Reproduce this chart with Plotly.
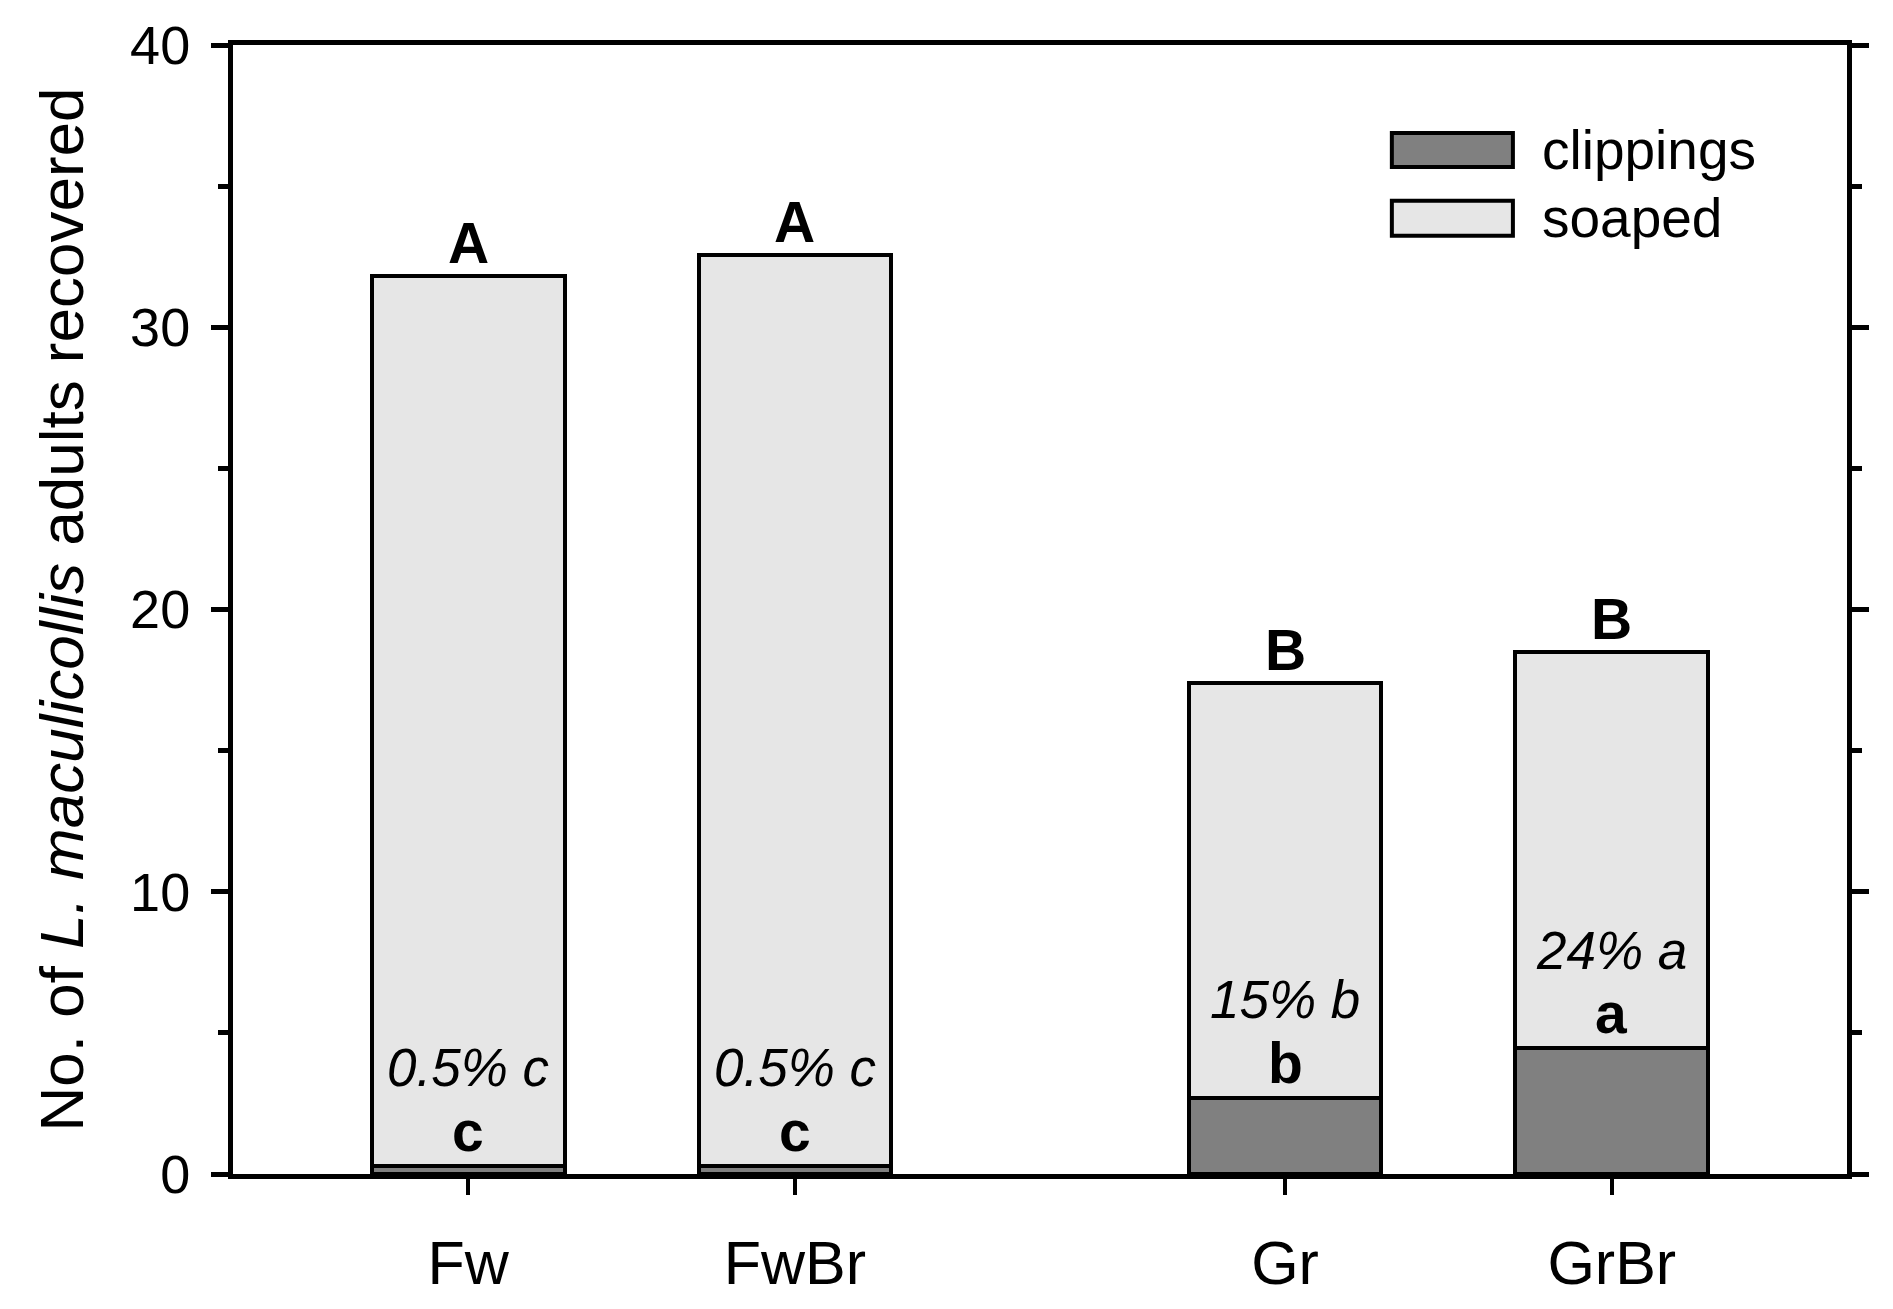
import plotly.graph_objects as go

# ---- data ----
categories = ["Fw", "FwBr", "Gr", "GrBr"]
clippings = [0.3, 0.3, 2.7, 4.45]
soaped = [31.5, 32.25, 14.7, 14.05]
group_letters = ["A", "A", "B", "B"]
clip_letters = ["c", "c", "b", "a"]
pct_labels = ["0.5% c", "0.5% c", "15% b", "24% a"]
y_tick_vals = [0, 10, 20, 30, 40]
series_names = ["clippings", "soaped"]
series_colors = ["#808080", "#e6e6e6"]

# layout positions (gap between the two groups)
x_pos = [1, 2, 3.5, 4.5]

FONT = "Liberation Sans, Arial, Helvetica, sans-serif"

fig = go.Figure()
for name, vals, col in zip(series_names, [clippings, soaped], series_colors):
    fig.add_trace(go.Bar(
        x=x_pos, y=vals, name=name, width=0.59,
        marker=dict(color=col, line=dict(color="black", width=4)),
        showlegend=False,
    ))

totals = [c + s for c, s in zip(clippings, soaped)]
annotations = []
for xi, tot, clip, gl, cl, pl in zip(x_pos, totals, clippings, group_letters, clip_letters, pct_labels):
    annotations.append(dict(x=xi, y=tot, text=f"<b>{gl}</b>", showarrow=False,
                            yanchor="middle", yshift=33,
                            font=dict(family=FONT, size=57, color="black")))
    annotations.append(dict(x=xi, y=clip, text=f"<b>{cl}</b>", showarrow=False,
                            yanchor="middle", yshift=35,
                            font=dict(family=FONT, size=57, color="black")))
    annotations.append(dict(x=xi, y=clip, text=f"<i>{pl}</i>", showarrow=False,
                            yanchor="middle", yshift=98,
                            font=dict(family=FONT, size=53, color="black")))

# manual legend (large swatches)
shapes = []
leg_x0, leg_x1, leg_tx = 0.718, 0.793, 0.810
leg_rows = [(0.922, 0.892), (0.862, 0.831)]
for (y1, y0), name, col in zip(leg_rows, series_names, series_colors):
    shapes.append(dict(type="rect", xref="paper", yref="paper",
                       x0=leg_x0, x1=leg_x1, y0=y0, y1=y1,
                       fillcolor=col, line=dict(color="black", width=4)))
    annotations.append(dict(xref="paper", yref="paper", x=leg_tx, y=(y0 + y1) / 2,
                            text=name, showarrow=False, xanchor="left", yanchor="middle",
                            font=dict(family=FONT, size=55, color="black")))

fig.update_layout(
    width=1893, height=1309,
    barmode="stack",
    plot_bgcolor="white", paper_bgcolor="white",
    margin=dict(l=233, r=46, t=45, b=135),
    font=dict(family=FONT, color="black"),
    annotations=annotations,
    shapes=shapes,
    showlegend=False,
)
fig.update_xaxes(
    range=[0.28, 5.22],
    tickvals=x_pos, ticktext=categories,
    ticks="outside", ticklen=16, tickwidth=4, tickcolor="black",
    showline=True, linewidth=5, linecolor="black", mirror=True,
    showgrid=False, zeroline=False,
    tickfont=dict(family=FONT, size=61, color="black"),
    ticklabelstandoff=16,
)
fig.update_yaxes(
    range=[0, 40],
    tickvals=y_tick_vals,
    ticks="outside", ticklen=17, tickwidth=5, tickcolor="black",
    minor=dict(dtick=5, ticks="outside", ticklen=10, tickwidth=5, tickcolor="black", showgrid=False),
    showline=True, linewidth=5, linecolor="black", mirror="ticks",
    showgrid=False, zeroline=False,
    tickfont=dict(family=FONT, size=54, color="black"),
    ticklabelstandoff=10,
    title=dict(text="No. of <i>L. maculicollis</i> adults recovered",
               font=dict(family=FONT, size=62, color="black"), standoff=28),
)

fig.write_html("out.html", config={"displayModeBar": False},
               post_script="document.body.style.margin='0';document.body.style.overflow='hidden';")
